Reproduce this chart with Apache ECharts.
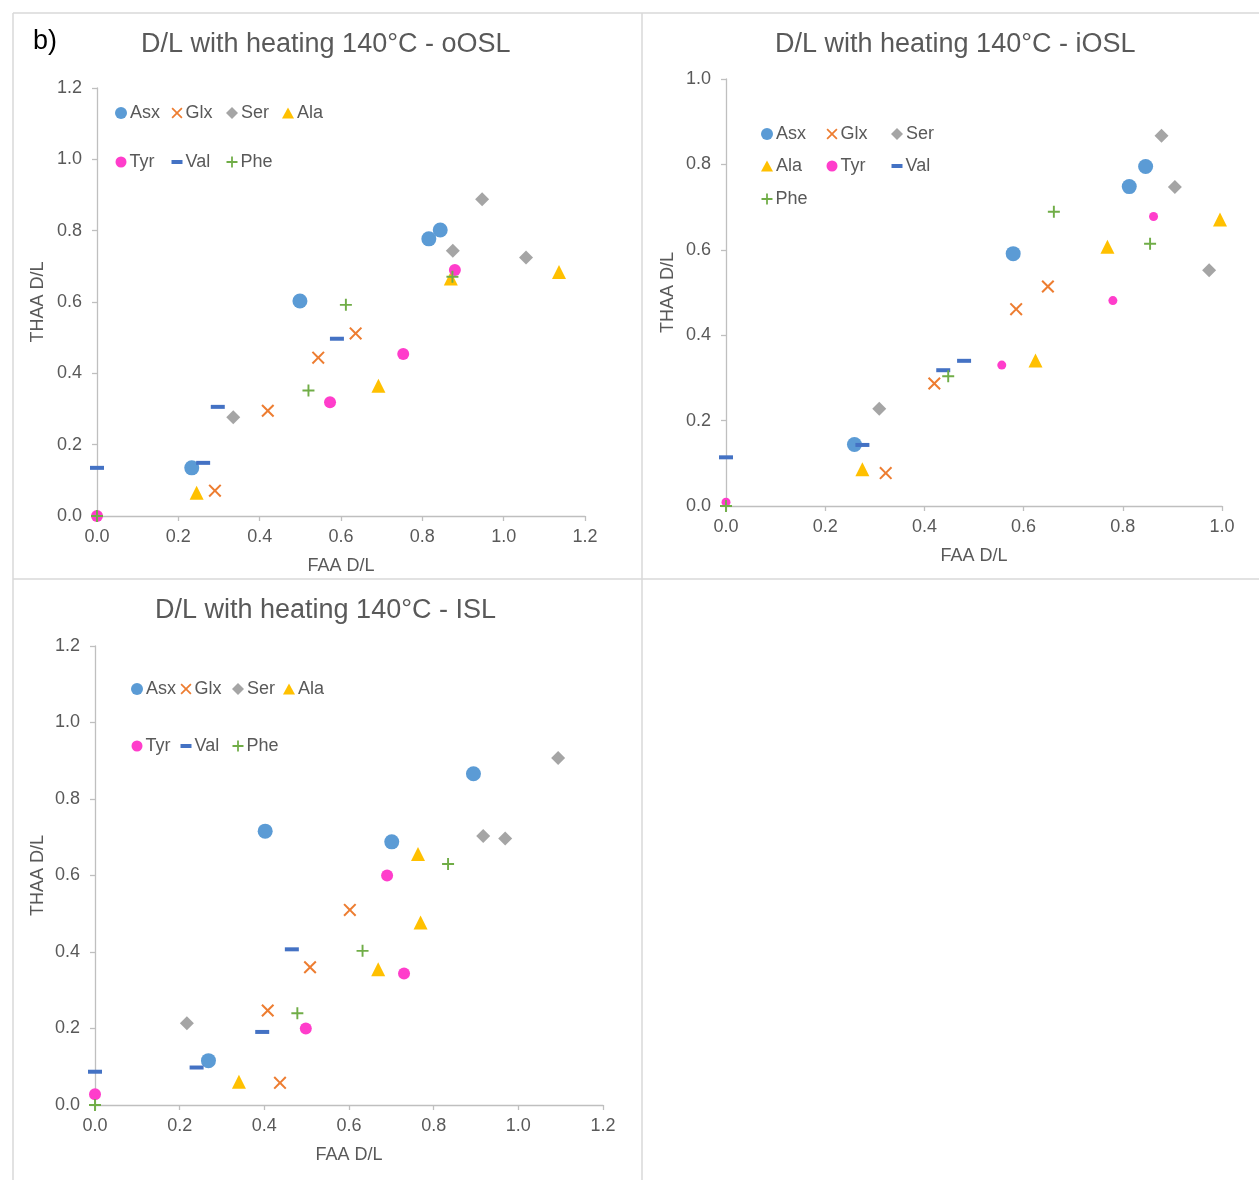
<!DOCTYPE html>
<html><head><meta charset="utf-8">
<script src="https://cdn.jsdelivr.net/npm/echarts@6/dist/echarts.min.js"></script>
<style>html,body{margin:0;padding:0;background:#fff}#c{width:1259px;height:1180px}</style>
</head><body><div id="c"></div><script>
// ---------- DATA ----------
const aminoAcids = ['Asx','Glx','Ser','Ala','Tyr','Val','Phe'];
const panelTitles = ['D/L with heating 140°C - oOSL','D/L with heating 140°C - iOSL','D/L with heating 140°C - ISL'];
const xAxisName = 'FAA D/L';
const yAxisName = 'THAA D/L';

// oOSL  [FAA D/L, THAA D/L]
const oOSL_Asx = [[0.233,0.135],[0.499,0.603],[0.816,0.777],[0.844,0.802]];
const oOSL_Glx = [[0.290,0.071],[0.420,0.295],[0.544,0.444],[0.636,0.512]];
const oOSL_Ser = [[0.335,0.277],[0.875,0.744],[0.947,0.888],[1.055,0.725]];
const oOSL_Ala = [[0.245,0.065],[0.692,0.365],[0.870,0.666],[1.136,0.684]];
const oOSL_Tyr = [[0.000,0.000],[0.573,0.319],[0.753,0.454],[0.880,0.690]];
const oOSL_Val = [[0.000,0.135],[0.261,0.149],[0.297,0.306],[0.590,0.497]];
const oOSL_Phe = [[0.000,0.000],[0.520,0.352],[0.612,0.592],[0.874,0.671]];

// iOSL
const iOSL_Asx = [[0.259,0.144],[0.579,0.591],[0.813,0.748],[0.846,0.795]];
const iOSL_Glx = [[0.322,0.077],[0.420,0.287],[0.585,0.461],[0.649,0.514]];
const iOSL_Ser = [[0.309,0.228],[0.878,0.867],[0.905,0.747],[0.974,0.552]];
const iOSL_Ala = [[0.275,0.086],[0.624,0.341],[0.769,0.607],[0.996,0.671]];
const iOSL_Tyr = [[0.000,0.009],[0.556,0.330],[0.780,0.481],[0.862,0.678]];
const iOSL_Val = [[0.000,0.114],[0.275,0.143],[0.438,0.318],[0.480,0.340]];
const iOSL_Phe = [[0.000,0.000],[0.448,0.304],[0.661,0.689],[0.855,0.614]];

// ISL
const ISL_Asx = [[0.268,0.116],[0.402,0.716],[0.701,0.688],[0.894,0.866]];
const ISL_Glx = [[0.437,0.058],[0.408,0.247],[0.508,0.360],[0.602,0.510]];
const ISL_Ser = [[0.217,0.214],[0.917,0.703],[0.969,0.697],[1.094,0.907]];
const ISL_Ala = [[0.340,0.061],[0.669,0.355],[0.769,0.477],[0.763,0.656]];
const ISL_Tyr = [[0.000,0.028],[0.498,0.200],[0.730,0.344],[0.690,0.600]];
const ISL_Val = [[0.000,0.087],[0.240,0.098],[0.395,0.191],[0.465,0.407]];
const ISL_Phe = [[0.000,0.000],[0.478,0.240],[0.632,0.403],[0.834,0.630]];

const axisMax = [1.2, 1.0, 1.2];
const axisInterval = 0.2;

// ---------- STYLE ----------
const panelData = [
  [oOSL_Asx,oOSL_Glx,oOSL_Ser,oOSL_Ala,oOSL_Tyr,oOSL_Val,oOSL_Phe],
  [iOSL_Asx,iOSL_Glx,iOSL_Ser,iOSL_Ala,iOSL_Tyr,iOSL_Val,iOSL_Phe],
  [ISL_Asx,ISL_Glx,ISL_Ser,ISL_Ala,ISL_Tyr,ISL_Val,ISL_Phe]
];
const FONT = '"Liberation Sans", Arial, sans-serif';
const TXT = '#595959';
const AX = '#BFBFBF';
const XPATH = 'path://M0,1.1L1.1,0L5,3.9L8.9,0L10,1.1L6.1,5L10,8.9L8.9,10L5,6.1L1.1,10L0,8.9L3.9,5Z';
const PLUS = 'path://M4.2,0H5.8V4.2H10V5.8H5.8V10H4.2V5.8H0V4.2H4.2Z';
const sty = {
  Asx:{color:'#5B9BD5', symbol:'circle', size:15, lw:12, lh:12},
  Glx:{color:'#ED7D31', symbol:XPATH, size:13, lw:11, lh:11},
  Ser:{color:'#A5A5A5', symbol:'diamond', size:14, lw:12, lh:12},
  Ala:{color:'#FFC000', symbol:'triangle', size:14, lw:12, lh:11},
  Tyr:{color:'#FF3DCB', symbol:'circle', size:12, lw:11, lh:11},
  Val:{color:'#4472C4', symbol:'rect', size:[14,4], lw:11, lh:4},
  Phe:{color:'#70AD47', symbol:PLUS, size:12, lw:11, lh:11}
};
const grids = [
  {left:97, top:88, width:488, height:428},
  {left:726, top:79, width:496, height:427},
  {left:95, top:646, width:508, height:459}
];
const nameGapY = [50, 49, 48];
const titlePos = [{left:141, top:31},{left:775, top:31},{left:155, top:597}];
// legend item positions [name, centerX, centerY]
const legendPos = [
  [['Asx',121,113],['Glx',177,113],['Ser',232,113],['Ala',288,113],['Tyr',121,162],['Val',177,162],['Phe',232,162]],
  [['Asx',767,134],['Glx',832,134],['Ser',897,134],['Ala',767,166],['Tyr',832,166],['Val',897,166],['Phe',767,199]],
  [['Asx',137,689],['Glx',186,689],['Ser',238,689],['Ala',289,689],['Tyr',137,746],['Val',186,746],['Phe',238,746]]
];

const xAxes = [], yAxes = [], series = [], legends = [], titles = [];
grids.forEach((g, i) => {
  const common = {
    gridIndex:i, type:'value', min:0, max:axisMax[i], interval:axisInterval,
    axisLine:{show:true, onZero:false, lineStyle:{color:AX, width:1.3}},
    axisTick:{show:true, length:5, lineStyle:{color:AX, width:1.3}},
    splitLine:{show:false},
    nameLocation:'middle',
    nameTextStyle:{color:TXT, fontSize:18, fontFamily:FONT}
  };
  xAxes.push(Object.assign({}, common, {
    name:xAxisName, nameGap:41,
    axisLabel:{formatter:v=>v.toFixed(1), color:TXT, fontSize:18, fontFamily:FONT, margin:12}
  }));
  yAxes.push(Object.assign({}, common, {
    name:yAxisName, nameGap:nameGapY[i],
    axisLabel:{formatter:v=>v.toFixed(1), color:TXT, fontSize:18, fontFamily:FONT, margin:15}
  }));
  aminoAcids.forEach((a, k) => {
    const s = sty[a];
    let size = s.size;
    if (i === 1 && a === 'Tyr') size = 9;
    series.push({
      type:'scatter', name:a, xAxisIndex:i, yAxisIndex:i,
      data:panelData[i][k], symbol:s.symbol, symbolSize:size,
      itemStyle:{color:s.color, opacity:1}, z:2+k, silent:true
    });
  });
  legendPos[i].forEach(([a, cx, cy]) => {
    const s = sty[a];
    legends.push({
      data:[{name:a, icon:s.symbol}], left:cx - s.lw/2, top:cy - 10,
      itemWidth:s.lw, itemHeight:s.lh, itemGap:0, padding:0, selectedMode:false,
      textStyle:{color:TXT, fontSize:18, fontFamily:FONT, lineHeight:20, padding:[0,0,0,-2]}
    });
  });
  titles.push({text:panelTitles[i], left:titlePos[i].left, top:titlePos[i].top, padding:0,
    textStyle:{color:TXT, fontSize:27, fontWeight:'normal', fontFamily:FONT}});
});

const border = {stroke:'#D9D9D9', lineWidth:1.5, fill:null};
const chart = echarts.init(document.getElementById('c'), null, {renderer:'canvas'});
chart.setOption({
  backgroundColor:'#fff',
  animation:false,
  title:titles,
  legend:legends,
  grid:grids,
  xAxis:xAxes,
  yAxis:yAxes,
  series:series,
  graphic:[
    {type:'line', shape:{x1:13, y1:13, x2:1259, y2:13}, style:border},
    {type:'line', shape:{x1:13, y1:13, x2:13, y2:1180}, style:border},
    {type:'line', shape:{x1:642, y1:13, x2:642, y2:1180}, style:border},
    {type:'line', shape:{x1:13, y1:579, x2:1259, y2:579}, style:border},
    {type:'text', left:33, top:28, style:{text:'b)', fill:'#000', fontSize:27, fontFamily:FONT}}
  ]
});
</script></body></html>
